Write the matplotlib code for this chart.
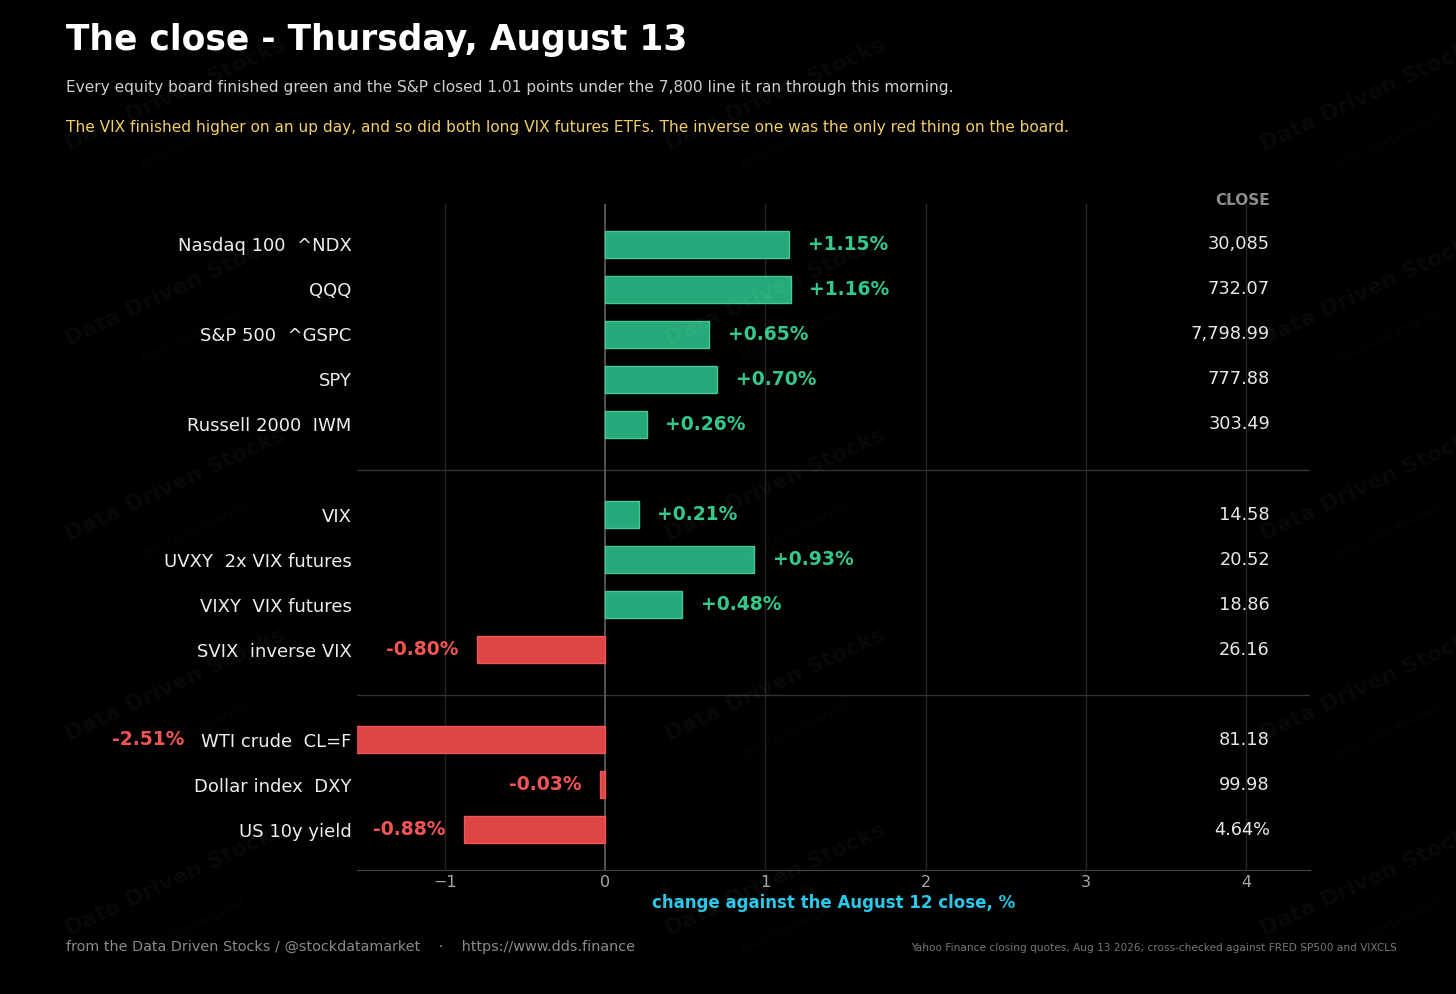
import matplotlib
matplotlib.use("Agg")
import matplotlib.pyplot as plt
import matplotlib.transforms as mtransforms

labels = ["Nasdaq 100  ^NDX", "QQQ", "S&P 500  ^GSPC", "SPY", "Russell 2000  IWM",
          "VIX", "UVXY  2x VIX futures", "VIXY  VIX futures", "SVIX  inverse VIX",
          "WTI crude  CL=F", "Dollar index  DXY", "US 10y yield"]
changes = [1.15, 1.16, 0.65, 0.70, 0.26, 0.21, 0.93, 0.48, -0.80, -2.51, -0.03, -0.88]
closes = ["30,085", "732.07", "7,798.99", "777.88", "303.49",
          "14.58", "20.52", "18.86", "26.16", "81.18", "99.98", "4.64%"]
groups = [0, 0, 0, 0, 0, 1, 1, 1, 1, 2, 2, 2]
xticks = [-1, 0, 1, 2, 3, 4]

# row positions: one empty slot between groups
ypos = [i + groups[i] for i in range(len(labels))]
seps = [5, 10]

BG = "#000000"
GREEN_FILL = "#26a97a"
GREEN_EDGE = "#45c993"
GREEN_TXT = "#34c98a"
RED_FILL = "#e04545"
RED_EDGE = "#ea5a5a"
RED_TXT = "#f25555"

fig = plt.figure(figsize=(14.56, 9.94), dpi=100, facecolor=BG)
ax = fig.add_axes([0.2452, 0.1247, 0.6545, 0.6701], facecolor=BG)

fills = [GREEN_FILL if v >= 0 else RED_FILL for v in changes]
edges = [GREEN_EDGE if v >= 0 else RED_EDGE for v in changes]
ax.barh(ypos, changes, height=0.58, color=fills, edgecolor=edges, linewidth=1.0, zorder=3)

ax.set_xlim(-1.55, 4.4)
ax.set_ylim(13.9, -0.9)

for xt in xticks:
    if xt == 0:
        ax.axvline(xt, color="#5a5a5a", lw=1.3, zorder=2)
    else:
        ax.axvline(xt, color="#262626", lw=1.0, zorder=1)
for s in seps:
    ax.axhline(s, color="#333333", lw=1.0, zorder=1)

for y, v in zip(ypos, changes):
    txt = f"{v:+.2f}%"
    if v >= 0:
        ax.text(v + 0.115, y, txt, ha="left", va="center", color=GREEN_TXT,
                fontsize=13.5, fontweight="bold", zorder=4, clip_on=False)
    else:
        ax.text(v - 0.115, y, txt, ha="right", va="center", color=RED_TXT,
                fontsize=13.5, fontweight="bold", zorder=4, clip_on=False)

trans = mtransforms.blended_transform_factory(ax.transAxes, ax.transData)
for y, c in zip(ypos, closes):
    ax.text(0.958, y, c, transform=trans, ha="right", va="center",
            color="#e8e8e8", fontsize=12.8, zorder=4)
ax.text(0.958, -0.98, "CLOSE", transform=trans, ha="right", va="center",
        color="#8c8c8c", fontsize=11, fontweight="bold", clip_on=False)

ax.set_yticks(ypos)
ax.set_yticklabels(labels, color="#eeeeee", fontsize=13)
ax.set_xticks(xticks)
ax.set_xticklabels(["\u22121", "0", "1", "2", "3", "4"], color="#a8a8a8", fontsize=11.5)
ax.tick_params(axis="y", length=0, pad=4)
ax.tick_params(axis="x", length=0, pad=3.5)
for sp in ["top", "right", "left"]:
    ax.spines[sp].set_visible(False)
ax.spines["bottom"].set_color("#444444")
ax.set_xlabel("change against the August 12 close, %", color="#2bc8ea",
              fontsize=12, fontweight="bold", labelpad=3)

fig.text(0.0453, 0.977, "The close - Thursday, August 13", color="white",
         fontsize=24.85, fontweight="bold", ha="left", va="top")
fig.text(0.0453, 0.9115, "Every equity board finished green and the S&P closed 1.01 points under the 7,800 line it ran through this morning.",
         color="#cfcfcf", fontsize=11.1, ha="left", va="center")
fig.text(0.0453, 0.872, "The VIX finished higher on an up day, and so did both long VIX futures ETFs. The inverse one was the only red thing on the board.",
         color="#f2cf66", fontsize=11.1, ha="left", va="center")
fig.text(0.0453, 0.0473, "from the Data Driven Stocks / @stockdatamarket    \u00b7    https://www.dds.finance",
         color="#8a8a8a", fontsize=10.4, ha="left", va="center")
fig.text(0.9595, 0.0463, "Yahoo Finance closing quotes, Aug 13 2026; cross-checked against FRED SP500 and VIXCLS",
         color="#777777", fontsize=7.6, ha="right", va="center")

# watermarks
wm_x = [175, 775, 1370]
wm_y = [95, 290, 485, 685, 880]
for py in wm_y:
    for px in wm_x:
        fx, fy = px / 1456, 1 - py / 994
        fig.text(fx, fy, "Data Driven Stocks", color="white", alpha=0.04,
                 fontsize=16, fontweight="bold", rotation=25, ha="center", va="center",
                 zorder=10)
        fig.text(fx + 0.012, fy - 0.045, "@stockdatamarket", color="white", alpha=0.03,
                 fontsize=9, rotation=25, ha="center", va="center", zorder=10)

fig.savefig("out.png", dpi=100, facecolor=BG)
